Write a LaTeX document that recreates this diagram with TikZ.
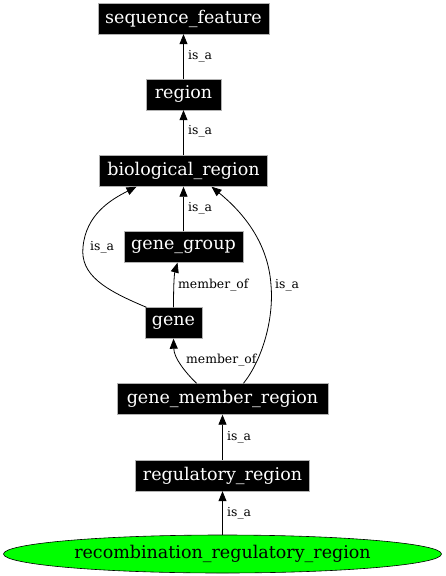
\documentclass[tikz,border=0pt]{standalone}
\usepackage{fontspec}
\setmainfont{DejaVu Serif}
\usetikzlibrary{arrows.meta,shapes.geometric}
\begin{document}
\begin{tikzpicture}[x=1pt,y=-1pt,
  term/.style={fill=black,draw=gray!60,line width=0.4pt,text=white,font=\fontsize{17.5}{20}\selectfont,inner sep=0pt,minimum height=31pt},
  rel/.style={-{Triangle[length=10pt,width=8pt]},line width=0.8pt},
  lab/.style={font=\fontsize{12.4}{14}\selectfont,anchor=west,inner sep=0pt}]
\useasboundingbox (0,0) rectangle (445,576);
\node[term,minimum width=171pt] (sf) at (183.5,18.5) {sequence\_feature};
\node[term,minimum width=75pt] (reg) at (183.5,94.5) {region};
\node[term,minimum width=168pt] (bio) at (183.5,171) {biological\_region};
\node[term,minimum width=119pt] (gg) at (183.5,247) {gene\_group};
\node[term,minimum width=57pt] (gene) at (173.5,323) {gene};
\node[term,minimum width=211pt] (gmr) at (222.5,399) {gene\_member\_region};
\node[term,minimum width=174pt] (rr) at (222.5,475.5) {regulatory\_region};
\node[ellipse,fill=green,draw=black,line width=0.6pt,inner sep=0pt,minimum width=438pt,minimum height=38pt,font=\fontsize{17.5}{20}\selectfont] (rec) at (222.5,554) {recombination\_regulatory\_region};

\draw[rel] (reg.north) -- (sf.south);
\node[lab] (l1) at (188,56) {is\_a};
\draw[rel] (bio.north) -- (reg.south);
\node[lab] (l2) at (188,131) {is\_a};
\draw[rel] (gg.north) -- (bio.south);
\node[lab] (l3) at (188,208) {is\_a};
\draw[rel] ([xshift=-27pt]gene.north) .. controls (105,290) and (80,275) .. (83,247) .. controls (86,215) and (110,200) .. ([xshift=-47pt]bio.south);
\node[lab] (l4) at (90,247) {is\_a};
\draw[rel] (gene.north) .. controls (173.5,290) and (174,275) .. ([xshift=-6pt]gg.south);
\node[lab] (l5) at (178,285) {member\_of};
\draw[rel] ([xshift=-26pt]gmr.north) .. controls (185,372) and (174,358) .. (gene.south);
\node[lab] (l6) at (186,360) {member\_of};
\draw[rel] ([xshift=21pt]gmr.north) .. controls (262,360) and (274,320) .. (271,285) .. controls (268,240) and (240,210) .. ([xshift=28pt]bio.south);
\node[lab] (l7) at (275,285) {is\_a};
\draw[rel] (rr.north) -- (gmr.south);
\node[lab] (l8) at (227,437) {is\_a};
\draw[rel] (rec.north) -- (rr.south);
\node[lab] (l9) at (227,513) {is\_a};
\end{tikzpicture}
\end{document}
